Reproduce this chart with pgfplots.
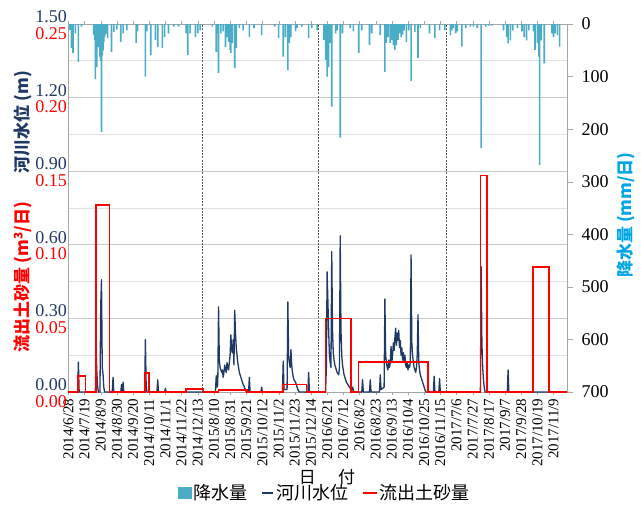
\documentclass[border=0pt]{standalone}
\usepackage{fontspec}
\setmainfont{Liberation Serif}
\newfontfamily\cjk{Noto Sans CJK JP}
\usepackage{pgfplots}
\pgfplotsset{compat=1.18}
\definecolor{navy}{RGB}{31,56,100}
\definecolor{rainc}{RGB}{75,172,198}
\definecolor{rainlab}{RGB}{0,165,230}
\definecolor{gridc}{RGB}{200,200,200}
\definecolor{gridm}{RGB}{225,225,225}
\pgfplotsset{/pgf/number format/assume math mode=true,
  common/.style={at={(0pt,0pt)}, anchor=south west, scale only axis,
    width=499pt, height=368pt, xmin=-0.5, xmax=647.5}}
\pgfplotstableread{
x r
2 11
4 46
6 55
9 18
13 72
17 5
33 20
34 30
35 105
36 40
37 82
38 30
39 44
40 25
41 62
42 70
43 205
44 60
45 50
46 35
47 25
48 20
49 18
51 27
56 53
59 15
63 10
68 34
71 18
76 12
88 36
90 14
100 100
102 14
107 59
113 30
116 44
122 46
125 25
130 18
137 5
143 5
153 18
155 59
158 18
165 25
168 18
171 12
187 5
192 53
194 18
195 93
198 18
201 14
204 44
206 25
208 34
210 49
211 55
213 36
216 84
218 46
222 8
227 12
235 25
241 8
251 21
268 5
273 27
279 62
282 25
285 88
287 36
289 25
295 14
297 8
303 5
312 27
316 8
323 12
332 30
334 68
336 100
338 82
340 36
342 157
347 18
349 12
353 216
356 18
366 8
370 14
377 55
381 12
391 40
394 18
405 21
411 91
413 36
415 25
418 36
420 30
422 40
424 49
426 40
428 30
430 18
432 25
434 20
436 12
439 34
442 12
445 108
450 15
454 65
457 8
469 18
476 27
482 12
489 12
496 21
498 12
500 8
503 18
505 14
511 43
516 8
522 5
526 5
531 8
536 236
542 5
546 3
550 3
565 12
569 25
571 37
574 31
577 12
583 8
589 14
592 25
595 31
598 12
604 14
606 49
609 36
611 62
612 268
614 31
618 75
628 18
630 25
632 18
635 21
638 43
}\raintab
\begin{document}
\begin{tikzpicture}
\path[use as bounding box] (-68pt,-115pt) rectangle (573pt,392pt);
% base axis: grid, left (water level) labels, x labels
\begin{axis}[common, ymin=0, ymax=1.5,
  ytick={0,0.3,0.6,0.9,1.2,1.5},
  minor ytick={0.15,0.45,0.75,1.05,1.35},
  ymajorgrids, yminorgrids,
  major grid style={gridc, line width=0.8pt},
  minor grid style={gridm, line width=0.8pt},
  axis line style={gray!70, line width=0.6pt},
  ytick style={draw=none}, minor y tick style={draw=none},
  yticklabel={\pgfmathprintnumber[fixed,fixed zerofill,precision=2]{\tick}},
  yticklabel style={text=navy, font=\fontsize{18}{18}\selectfont, anchor=south east, inner ysep=0pt, inner xsep=1pt, yshift=1pt},
  xtick={0,21,...,630},
  xticklabels={2014/6/28,2014/7/19,2014/8/9,2014/8/30,2014/9/20,2014/10/11,2014/11/1,2014/11/22,2014/12/13,2015/8/10,2015/8/31,2015/9/21,2015/10/12,2015/11/2,2015/11/23,2015/12/14,2016/6/21,2016/7/12,2016/8/2,2016/8/23,2016/9/13,2016/10/4,2016/10/25,2016/11/15,2017/7/6,2017/7/27,2017/8/17,2017/9/7,2017/9/28,2017/10/19,2017/11/9},
  xticklabel style={rotate=90, anchor=east, font=\fontsize{15}{16}\selectfont},
  xtick style={gray!70}, xtick align=outside, major tick length=3pt,
]
\addplot[draw=none, forget plot] coordinates {(0,0)};
\end{axis}
% rainfall axis
\begin{axis}[common, ymin=0, ymax=700, y dir=reverse,
  axis x line=none, axis y line*=right,
  y axis line style={gray!70, line width=0.6pt},
  ytick={0,100,...,700}, ytick align=outside, major tick length=6pt,
  ytick style={gray!70},
  yticklabel style={font=\fontsize{18}{18}\selectfont, anchor=west, xshift=5pt},
]
\addplot[ybar, fill=rainc, draw=none, bar width=1.6pt, forget plot] table[x=x,y=r] {\raintab};
\end{axis}
% water level lines
\begin{axis}[common, ymin=0, ymax=1.5, hide axis]
\addplot[navy, line width=1.3pt, no marks, line join=round] coordinates {
(-0.5,0) (12,0) (13,0.122) (14,0) (35,0) (36,0.166) (37,0.08) (38,0.02) (39,0) (41,0) (42,0.355) (43,0.457) (44,0.10) (45,0.072) (46,0.02) (47,0) (57,0) (58,0.06) (59,0) (68,0) (69,0.03) (70,0) (71,0.04) (72,0) (99,0) (100,0.213) (101,0.03) (102,0) (115,0) (116,0.05) (117,0) (125,0) (126,0.015) (127,0)
(191,0) (192,0.066) (193,0.02) (194,0.03) (195,0.347) (196,0.13) (197,0.10) (198,0.09) (199,0.08) (200,0.09) (201,0.06) (202,0.08) (203,0.11) (204,0.09) (205,0.08) (206,0.12) (207,0.10) (208,0.09) (209,0.12) (210,0.15) (211,0.233) (212,0.17) (213,0.16) (214,0.213) (215,0.11) (216,0.333) (217,0.24) (218,0.18) (219,0.15) (220,0.12) (221,0.10) (222,0.08) (223,0.07) (224,0.06) (225,0.05) (226,0.04) (227,0.03) (228,0.025) (229,0.015) (230,0.01) (231,0) (234,0) (235,0.06) (236,0) (250,0) (251,0.02) (252,0) (278,0) (279,0.126) (280,0.01) (284,0.01) (285,0.367) (286,0.14) (287,0.12) (288,0.10) (289,0.173) (290,0.11) (291,0.08) (292,0.06) (293,0.05) (294,0.045) (295,0.04) (296,0.03) (297,0.02) (298,0.01) (299,0.005) (300,0) (311,0) (312,0.08) (313,0)
(334,0) (335,0.10) (336,0.49) (337,0.37) (338,0.25) (339,0.15) (340,0.12) (341,0.10) (342,0.573) (343,0.25) (344,0.16) (345,0.13) (346,0.11) (347,0.10) (348,0.09) (349,0.08) (350,0.075) (351,0.07) (352,0.10) (353,0.637) (354,0.25) (355,0.15) (356,0.11) (357,0.09) (358,0.07) (359,0.06) (360,0.05) (361,0.04) (362,0.035) (363,0.03) (364,0.025) (365,0.02) (366,0.015) (367,0.01) (368,0.005) (369,0.02) (370,0.01) (371,0) (381,0) (382,0.05) (383,0) (391,0) (392,0.05) (393,0) (404,0) (405,0.07) (406,0.01) (410,0.02) (411,0.379) (412,0.15) (413,0.12) (414,0.10) (415,0.09) (416,0.13) (417,0.10) (418,0.12) (419,0.186) (420,0.12) (421,0.15) (422,0.20) (423,0.17) (424,0.22) (425,0.26) (426,0.19) (427,0.24) (428,0.21) (429,0.25) (430,0.18) (431,0.21) (432,0.15) (433,0.18) (434,0.13) (435,0.16) (436,0.12) (437,0.15) (438,0.11) (439,0.10) (440,0.12) (441,0.09) (442,0.11) (443,0.10) (444,0.12) (445,0.559) (446,0.20) (447,0.15) (448,0.12) (449,0.10) (450,0.09) (451,0.08) (452,0.10) (453,0.15) (454,0.315) (455,0.12) (456,0.09) (457,0.07) (458,0.06) (459,0.05) (460,0.04) (461,0.03) (462,0.02) (463,0.01) (464,0) (474,0) (475,0.064) (476,0) (481,0) (482,0.055) (483,0)
(535,0) (536,0.511) (537,0.20) (538,0.10) (539,0.05) (540,0.02) (541,0) (570,0) (571,0.09) (572,0) (647.5,0)
};
\end{axis}
% sediment axis
\begin{axis}[common, ymin=0, ymax=0.25,
  axis x line=none, axis y line*=left,
  y axis line style={draw=none}, ytick style={draw=none},
  ytick={0,0.05,0.1,0.15,0.2,0.25},
  yticklabel={\pgfmathprintnumber[fixed,fixed zerofill,precision=2]{\tick}},
  yticklabel style={text=red, font=\fontsize{18}{18}\selectfont, anchor=north east, inner ysep=0pt, inner xsep=1pt, yshift=-3pt},
  legend style={at={(0.515,-0.2745)}, anchor=center, draw=none, fill=none,
    font=\cjk\fontsize{18}{20}\selectfont, legend columns=3,
    /tikz/every even column/.append style={column sep=12pt}},
]
\addplot[red, line width=1.6pt, no marks, forget plot] coordinates {
(-0.5,0) (12.5,0) (12.5,0.011) (22,0.011) (22,0) (36,0) (36,0.127) (53.5,0.127) (53.5,0) (99.5,0) (99.5,0.013) (104.5,0.013) (104.5,0) (153,0) (153,0.002) (174.5,0.002) (174.5,0)
(195,0) (195,0.0012) (232,0.0012) (232,0) (279,0) (279,0.005) (309,0.005) (309,0)
(334,0) (334,0.05) (367,0.05) (367,0) (377,0) (377,0.0204) (467,0.0204) (467,0)
(535,0) (535,0.147) (543.5,0.147) (543.5,0) (603,0) (603,0.085) (624,0.085) (624,0) (647.5,0)
};
\draw[black!65, line width=1.2pt, dash pattern=on 2pt off 1.2pt] (axis cs:174.5,0) -- (axis cs:174.5,0.25);
\draw[black!65, line width=1.2pt, dash pattern=on 2pt off 1.2pt] (axis cs:324.5,0) -- (axis cs:324.5,0.25);
\draw[black!65, line width=1.2pt, dash pattern=on 2pt off 1.2pt] (axis cs:491.5,0) -- (axis cs:491.5,0.25);
\addlegendimage{legend image code/.code={\fill[rainc] (0pt,-5pt) rectangle (13pt,6pt);}}
\addlegendentry{降水量}
\addlegendimage{legend image code/.code={\draw[navy,line width=1.5pt] (0pt,0pt) -- (11pt,0pt);}}
\addlegendentry{河川水位}
\addlegendimage{legend image code/.code={\draw[red,line width=1.5pt] (0pt,0pt) -- (14pt,0pt);}}
\addlegendentry{流出土砂量}
\end{axis}
\node[rotate=90, text=navy, font=\cjk\bfseries\fontsize{17}{19}\selectfont] at (-45pt,270pt) {河川水位 (m)};
\node[rotate=90, text=red, font=\cjk\bfseries\fontsize{17}{19}\selectfont] at (-45pt,115pt) {流出土砂量 (m\textsuperscript{3}/日)};
\node[rotate=90, text=rainlab, font=\cjk\bfseries\fontsize{17}{19}\selectfont] at (558pt,177pt) {降水量 (mm/日)};
\node[font=\cjk\fontsize{17}{19}\selectfont] at (259pt,-85pt) {日\hspace{1.3em}付};
\end{tikzpicture}
\end{document}
